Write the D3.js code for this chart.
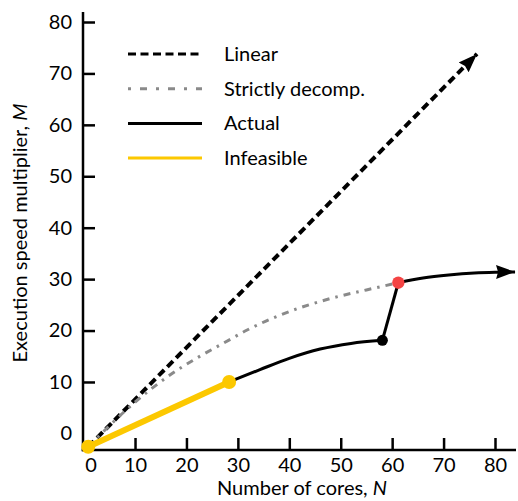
<!DOCTYPE html>
<html>
<head>
<meta charset="utf-8">
<script src="https://cdn.jsdelivr.net/npm/d3@7"></script>
<style>
  body { margin: 0; background: #fff; }
  svg { display: block; font-family: Lato, "Open Sans", sans-serif; }
</style>
</head>
<body>
<svg id="drawing_region"></svg>
<script>
// values
const tickValues = [0, 10, 20, 30, 40, 50, 60, 70, 80];

const linearN = [0.9, 76.5];
const linearM = [-2.6, 73.8];

const decompN = [0.9, 9.8, 16.3, 22.1, 27.3, 31.8, 38.2, 47.9, 55.0, 61.2];
const decompM = [-2.6, 5.9, 11.0, 14.7, 17.6, 20.1, 23.0, 26.2, 27.9, 29.3];

const actualLowN = [28.3, 34.3, 40.0, 46.0, 52.0, 58.1];
const actualLowM = [10.0, 12.4, 14.6, 16.4, 17.5, 18.1];

const jumpN = [58.1, 61.2];
const jumpM = [18.1, 29.3];

const actualHighN = [61.2, 66.0, 71.0, 76.0, 80.0, 83.9];
const actualHighM = [29.3, 30.2, 30.8, 31.2, 31.35, 31.4];

const infeasibleN = [0.9, 28.3];
const infeasibleM = [-2.6, 10.0];

const legendLabels = ["Linear", "Strictly decomp.", "Actual", "Infeasible"];

const config = { width: 518, height: 501, font: 20 };

const svg = d3.select('#drawing_region')
    .attr('width', config.width)
    .attr('height', config.height);

const x = d3.scaleLinear().domain([0, 80]).range([83.6, 495]);
const y = d3.scaleLinear().domain([0, 80]).range([433.4, 22]);

const axisX = 83;
const axisY = 450;

const zip = (a, b) => a.map((v, i) => [v, b[i]]);

// arrow markers
const defs = svg.append('defs');
defs.append('marker')
    .attr('id', 'arrow')
    .attr('markerUnits', 'userSpaceOnUse')
    .attr('viewBox', '0 -8 19 16')
    .attr('refX', 19).attr('refY', 0)
    .attr('markerWidth', 19).attr('markerHeight', 16)
    .attr('orient', 'auto')
    .append('path')
    .attr('d', 'M0,-7L19,0L0,7L2,0Z')
    .attr('fill', 'black');

// axes
const xAxis = d3.axisBottom(x)
    .tickValues(tickValues)
    .tickSize(-12)
    .tickPadding(8);
const gx = svg.append('g')
    .attr('transform', `translate(0,${axisY})`)
    .call(xAxis);

const yAxis = d3.axisLeft(y)
    .tickValues(tickValues)
    .tickSize(-12)
    .tickPadding(11);
const gy = svg.append('g')
    .attr('transform', `translate(${axisX},0)`)
    .call(yAxis);

[gx, gy].forEach(g => {
    g.select('.domain').remove();
    g.selectAll('.tick line').attr('stroke', 'black').attr('stroke-width', 2.5);
    g.selectAll('.tick').filter(d => d === 0).select('line').remove();
    g.selectAll('.tick text')
        .attr('font-size', config.font)
        .attr('font-family', 'Lato, sans-serif')
        .attr('fill', 'black');
});
gx.selectAll('.tick').filter(d => d === 0).select('text').attr('dx', 7);

svg.append('line')
    .attr('x1', axisX).attr('x2', axisX)
    .attr('y1', 12).attr('y2', axisY + 1.25)
    .attr('stroke', 'black').attr('stroke-width', 2.5);
svg.append('line')
    .attr('x1', axisX - 1.25).attr('x2', 516)
    .attr('y1', axisY).attr('y2', axisY)
    .attr('stroke', 'black').attr('stroke-width', 2.5);

// axis titles
const ytitle = svg.append('text')
    .attr('transform', `translate(27,233) rotate(-90)`)
    .attr('text-anchor', 'middle')
    .attr('font-size', config.font)
    .attr('fill', 'black');
ytitle.append('tspan').text('Execution speed multiplier, ');
ytitle.append('tspan').attr('font-style', 'italic').text('M');

const xtitle = svg.append('text')
    .attr('x', 302).attr('y', 495)
    .attr('text-anchor', 'middle')
    .attr('font-size', config.font)
    .attr('fill', 'black');
xtitle.append('tspan').text('Number of cores, ');
xtitle.append('tspan').attr('font-style', 'italic').text('N');

// lines
const line = d3.line().x(d => x(d[0])).y(d => y(d[1]));
const curve = d3.line().x(d => x(d[0])).y(d => y(d[1])).curve(d3.curveMonotoneX);

svg.append('path')
    .attr('d', line(zip(linearN, linearM)))
    .attr('fill', 'none')
    .attr('stroke', 'black')
    .attr('stroke-width', 4)
    .attr('stroke-dasharray', '8,4.5')
    .attr('marker-end', 'url(#arrow)');

svg.append('path')
    .attr('d', curve(zip(decompN, decompM)))
    .attr('fill', 'none')
    .attr('stroke', '#8a8a8a')
    .attr('stroke-width', 3)
    .attr('stroke-dasharray', '7,6,2.5,6');

svg.append('path')
    .attr('d', curve(zip(actualLowN, actualLowM)))
    .attr('fill', 'none')
    .attr('stroke', 'black')
    .attr('stroke-width', 3);

svg.append('path')
    .attr('d', line(zip(jumpN, jumpM)))
    .attr('fill', 'none')
    .attr('stroke', 'black')
    .attr('stroke-width', 3);

svg.append('path')
    .attr('d', curve(zip(actualHighN, actualHighM)))
    .attr('fill', 'none')
    .attr('stroke', 'black')
    .attr('stroke-width', 3)
    .attr('marker-end', 'url(#arrow)');

svg.append('path')
    .attr('d', line(zip(infeasibleN, infeasibleM)))
    .attr('fill', 'none')
    .attr('stroke', '#fcc800')
    .attr('stroke-width', 6);

// markers
const dots = [
    { n: infeasibleN[0], m: infeasibleM[0], r: 7, c: '#fcc800' },
    { n: infeasibleN[1], m: infeasibleM[1], r: 7, c: '#fcc800' },
    { n: jumpN[0], m: jumpM[0], r: 5.5, c: 'black' },
    { n: jumpN[1], m: jumpM[1], r: 6.2, c: '#f44444' }
];
svg.selectAll('circle.dot')
    .data(dots)
    .enter()
    .append('circle')
    .attr('class', 'dot')
    .attr('cx', d => x(d.n))
    .attr('cy', d => y(d.m))
    .attr('r', d => d.r)
    .attr('fill', d => d.c);

// legend
const legendStyles = [
    { stroke: 'black', width: 3, dash: '8,4.5' },
    { stroke: '#8a8a8a', width: 3, dash: '3,9,7,9' },
    { stroke: 'black', width: 3, dash: null },
    { stroke: '#fcc800', width: 3, dash: null }
];
const legend = svg.append('g');
legendLabels.forEach((label, i) => {
    const ly = 54 + i * 34.7;
    const st = legendStyles[i];
    legend.append('line')
        .attr('x1', 128).attr('x2', 202)
        .attr('y1', ly).attr('y2', ly)
        .attr('stroke', st.stroke)
        .attr('stroke-width', st.width)
        .attr('stroke-dasharray', st.dash);
    legend.append('text')
        .attr('x', 224).attr('y', ly)
        .attr('dy', '0.35em')
        .attr('font-size', config.font)
        .attr('fill', 'black')
        .text(label);
});
</script>
</body>
</html>
